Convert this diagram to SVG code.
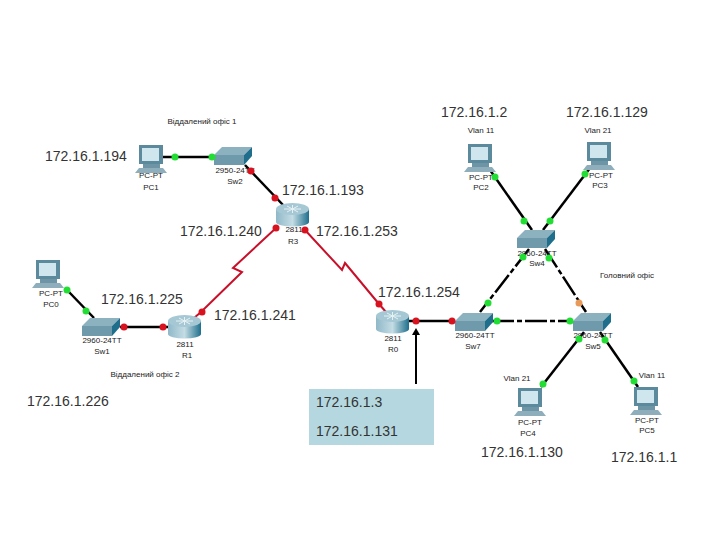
<svg xmlns="http://www.w3.org/2000/svg" width="720" height="540" viewBox="0 0 720 540">
<style>
text{font-family:"Liberation Sans",Arial,sans-serif}
.ip{font-size:14px;fill:#333}
.sm{font-size:8px;fill:#222;text-anchor:middle}
.eth{stroke:#000;stroke-width:2.5;fill:none}
.dash{stroke:#000;stroke-width:2.5;fill:none;stroke-dasharray:22 3 5 3}
.ser{stroke:#c8102a;stroke-width:2;fill:none}
.g{fill:#22dd33}.r{fill:#d8121f}.o{fill:#e89a5a}
</style>
<defs>
<linearGradient id="rt" x1="0" y1="0" x2="1" y2="0"><stop offset="0" stop-color="#8fb8c8"/><stop offset=".5" stop-color="#c4dce4"/><stop offset="1" stop-color="#1f6f8c"/></linearGradient>
<g id="pc">
<rect x="2" y="0" width="24" height="19" fill="#5b8a9c"/>
<rect x="5" y="3" width="17" height="13" fill="#cfe6ee"/>
<rect x="6" y="19" width="17" height="4" fill="#6d95a5"/>
<path d="M2 23H26L30 28H-2Z" fill="#8eaebb"/>
</g>
<g id="sw">
<path d="M0 8L8 0H38L30 8Z" fill="#8db2bf"/>
<rect x="0" y="8" width="30" height="10" fill="#6f9aab"/>
<path d="M30 8L38 0V9L30 18Z" fill="#1f6f8c"/>
</g>
<g id="router">
<rect x="0" y="6" width="33" height="13" fill="url(#rt)"/>
<ellipse cx="16.500" cy="19" rx="16.500" ry="4.500" fill="url(#rt)"/>
<ellipse cx="16.500" cy="6" rx="16.500" ry="6" fill="#a5c8d4"/>
<path d="M8 6H25M16.500 2V10M11 3L22 9M22 3L11 9" stroke="#e6f1f4" stroke-width="1"/>
</g>
</defs>
<rect width="720" height="540" fill="#fff"/>
<g id="connectors">
<path class="eth" d="M163 157H215"/>
<path class="eth" d="M245 165L284 206"/>
<path class="ser" d="M276 228L233 268L242 272L201 312L194 318"/>
<path class="ser" d="M305 230L342 270L345 263L379 304L386 312"/>
<path class="eth" d="M69 292L94 318"/>
<path class="eth" d="M120 327H168"/>
<path class="eth" d="M409 321H455"/>
<path class="dash" d="M492 321H573"/>
<path class="dash" d="M529 249L480 312"/>
<path class="dash" d="M545 249L586 312"/>
<path class="eth" d="M490 170L532 230"/>
<path class="eth" d="M590 168L543 230"/>
<path class="eth" d="M584 332L541 387"/>
<path class="eth" d="M600 332L638 387"/>
<path d="M416 384V333" stroke="#000" stroke-width="2"/>
<path d="M416 328L412 335H420Z" fill="#000"/>
</g>
<g id="PC1"><use href="#pc" x="137" y="145"/><text class="sm" x="151" y="178">PC-PT</text><text class="sm" x="151" y="190">PC1</text></g>
<g id="Sw2"><use href="#sw" x="214" y="147"/><text class="sm" x="235" y="173">2950-24TT</text><text class="sm" x="235" y="184">Sw2</text></g>
<g id="R3"><use href="#router" x="276" y="203"/><text class="sm" x="294" y="232">2811</text><text class="sm" x="293" y="244">R3</text></g>
<g id="PC0"><use href="#pc" x="34" y="260"/><text class="sm" x="51" y="296">PC-PT</text><text class="sm" x="51" y="307">PC0</text></g>
<g id="Sw1"><use href="#sw" x="82" y="318"/><text class="sm" x="102" y="343">2960-24TT</text><text class="sm" x="102" y="354">Sw1</text></g>
<g id="R1"><use href="#router" x="168" y="315"/><text class="sm" x="185" y="347">2811</text><text class="sm" x="187" y="358">R1</text></g>
<g id="R0"><use href="#router" x="376" y="310"/><text class="sm" x="393" y="341">2811</text><text class="sm" x="393" y="352">R0</text></g>
<g id="Sw7"><use href="#sw" x="455" y="313"/><text class="sm" x="475" y="338">2960-24TT</text><text class="sm" x="473" y="349">Sw7</text></g>
<g id="Sw5"><use href="#sw" x="573" y="313"/><text class="sm" x="593" y="338">2960-24TT</text><text class="sm" x="593" y="349">Sw5</text></g>
<g id="Sw4"><use href="#sw" x="517" y="230"/><text class="sm" x="537" y="256">2960-24TT</text><text class="sm" x="537" y="266">Sw4</text></g>
<g id="PC2"><use href="#pc" x="466" y="144"/><text class="sm" x="481" y="180">PC-PT</text><text class="sm" x="481" y="190">PC2</text></g>
<g id="PC3"><use href="#pc" x="585" y="142"/><text class="sm" x="601" y="178">PC-PT</text><text class="sm" x="600" y="188">PC3</text></g>
<g id="PC4"><use href="#pc" x="516" y="388"/><text class="sm" x="530" y="425">PC-PT</text><text class="sm" x="528" y="436">PC4</text></g>
<g id="PC5"><use href="#pc" x="632" y="387"/><text class="sm" x="647" y="423">PC-PT</text><text class="sm" x="647" y="433">PC5</text></g>
<g id="link-lights">
<circle class="g" cx="175" cy="157" r="3.500"/><circle class="g" cx="212" cy="157" r="3.500"/>
<circle class="r" cx="251" cy="171" r="3.500"/><circle class="r" cx="275" cy="198" r="3.500"/>
<circle class="r" cx="276" cy="228" r="3.500"/><circle class="r" cx="305" cy="230" r="3.500"/>
<circle class="r" cx="202" cy="312" r="3.500"/><circle class="r" cx="379" cy="304" r="3.500"/>
<circle class="g" cx="67" cy="290" r="3.500"/><circle class="g" cx="86" cy="311" r="3.500"/>
<circle class="r" cx="124" cy="327" r="3.500"/><circle class="r" cx="163" cy="327" r="3.500"/>
<circle class="r" cx="416" cy="321" r="3.500"/><circle class="r" cx="452" cy="321" r="3.500"/>
<circle class="g" cx="497" cy="321" r="3.500"/><circle class="g" cx="570" cy="321" r="3.500"/>
<circle class="g" cx="488" cy="303" r="3.500"/><circle class="o" cx="579" cy="303" r="3.500"/>
<circle class="g" cx="523" cy="257" r="3.500"/><circle class="g" cx="549" cy="258" r="3.500"/>
<circle class="g" cx="524" cy="221" r="3.500"/><circle class="g" cx="550" cy="221" r="3.500"/>
<circle class="g" cx="495" cy="177" r="3.500"/><circle class="g" cx="585" cy="174" r="3.500"/>
<circle class="g" cx="579" cy="339" r="3.500"/><circle class="g" cx="605" cy="340" r="3.500"/>
<circle class="g" cx="543" cy="384" r="3.500"/><circle class="g" cx="634" cy="381" r="3.500"/>
</g>
<g id="labels">
<text class="sm" x="202" y="124">Віддалений офіс 1</text>
<text class="sm" x="145" y="377">Віддалений офіс 2</text>
<text class="sm" x="627" y="278">Головний офіс</text>
<text class="sm" x="481" y="133">Vlan 11</text>
<text class="sm" x="598" y="133">Vlan 21</text>
<text class="sm" x="517" y="381">Vlan 21</text>
<text class="sm" x="652" y="378">Vlan 11</text>
<text class="ip" x="45" y="161">172.16.1.194</text>
<text class="ip" x="282" y="195">172.16.1.193</text>
<text class="ip" x="180" y="236">172.16.1.240</text>
<text class="ip" x="316" y="236">172.16.1.253</text>
<text class="ip" x="101" y="304">172.16.1.225</text>
<text class="ip" x="214" y="320">172.16.1.241</text>
<text class="ip" x="27" y="406">172.16.1.226</text>
<text class="ip" x="378" y="297">172.16.1.254</text>
<text class="ip" x="441" y="117">172.16.1.2</text>
<text class="ip" x="566" y="117">172.16.1.129</text>
<text class="ip" x="481" y="457">172.16.1.130</text>
<text class="ip" x="611" y="462">172.16.1.1</text>
</g>
<g id="callout">
<rect x="309" y="389" width="125" height="56" fill="#b5d8e0"/>
<text class="ip" x="316" y="407">172.16.1.3</text>
<text class="ip" x="316" y="436">172.16.1.131</text>
</g>
</svg>
